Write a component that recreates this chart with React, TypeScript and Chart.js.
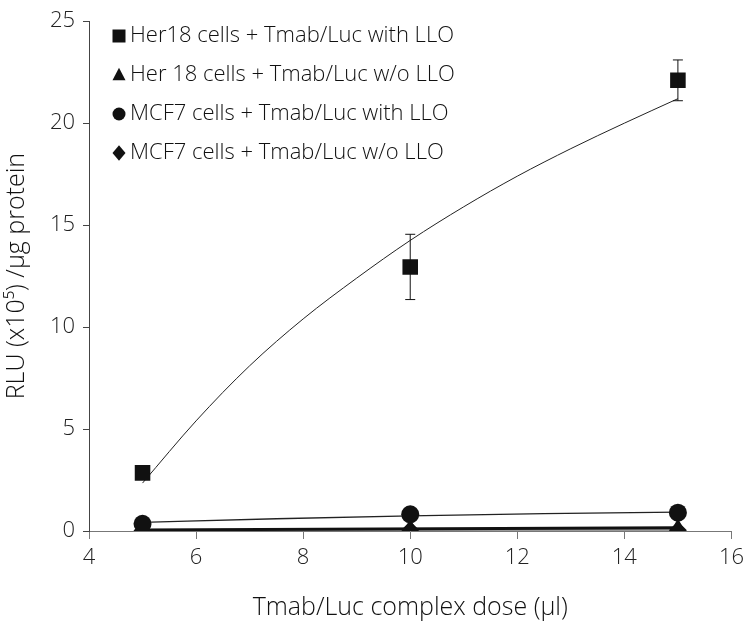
import React, { useEffect, useRef } from 'react';
import { Chart, registerables } from 'chart.js';

Chart.register(...registerables);

const doses = [5, 10, 15];
const her18WithLLO = [2.85, 12.95, 22.1];
const her18WithLLOErr = [0, 1.6, 1.0];
const her18WithoutLLO = [0.04, 0.1, 0.12];
const mcf7WithLLO = [0.35, 0.82, 0.9];
const mcf7WithoutLLO = [0.02, 0.05, 0.04];

const her18TrendX = [5, 6, 7, 8, 9, 10, 11, 12, 13, 14, 15];
const her18TrendY = [2.35, 5.4, 8.1, 10.4, 12.4, 14.25, 15.9, 17.4, 18.75, 20.0, 21.2];
const mcf7TrendX = [5, 7.5, 10, 12.5, 15];
const mcf7TrendY = [0.42, 0.6, 0.74, 0.85, 0.93];
const her18NoTrendX = [5, 15];
const her18NoTrendY = [0.05, 0.16];
const mcf7NoTrendX = [5, 15];
const mcf7NoTrendY = [0.02, 0.05];

const legendLabels = [
  'Her18 cells + Tmab/Luc with LLO',
  'Her 18 cells + Tmab/Luc w/o LLO',
  'MCF7 cells + Tmab/Luc with LLO',
  'MCF7 cells + Tmab/Luc w/o LLO',
];
const legendShapes = ['rect', 'triangle', 'circle', 'rectRot'];

const xTitle = 'Tmab/Luc complex dose (µl)';
const yTitle = 'RLU (x10⁵) /µg protein';

const FONT = "'Open Sans', sans-serif";

const pts = (xs: number[], ys: number[]) => xs.map((x, i) => ({ x, y: ys[i] }));

function drawShape(ctx: CanvasRenderingContext2D, shape: string, x: number, y: number, r: number) {
  ctx.beginPath();
  if (shape === 'rect') {
    ctx.rect(x - r, y - r, 2 * r, 2 * r);
  } else if (shape === 'triangle') {
    ctx.moveTo(x, y - r * 1.1);
    ctx.lineTo(x + r, y + r * 0.8);
    ctx.lineTo(x - r, y + r * 0.8);
    ctx.closePath();
  } else if (shape === 'circle') {
    ctx.arc(x, y, r, 0, Math.PI * 2);
  } else {
    ctx.moveTo(x, y - r * 1.2);
    ctx.lineTo(x + r, y);
    ctx.lineTo(x, y + r * 1.2);
    ctx.lineTo(x - r, y);
    ctx.closePath();
  }
  ctx.fill();
}

const legendPlugin = {
  id: 'insideLegend',
  afterDraw(chart: any) {
    const ctx = chart.ctx as CanvasRenderingContext2D;
    ctx.save();
    ctx.fillStyle = '#111';
    ctx.font = `300 22px ${FONT}`;
    ctx.textBaseline = 'middle';
    legendLabels.forEach((label, i) => {
      const y = 36 + i * 39;
      drawShape(ctx, legendShapes[i], 119, y, 6.5);
      ctx.fillText(label, 130, y);
    });
    ctx.restore();
  },
};

const errorBarPlugin = {
  id: 'errorBars',
  afterDatasetsDraw(chart: any) {
    const ctx = chart.ctx as CanvasRenderingContext2D;
    const xs = chart.scales.x;
    const ys = chart.scales.y;
    ctx.save();
    ctx.strokeStyle = '#111';
    ctx.lineWidth = 1;
    doses.forEach((d, i) => {
      const e = her18WithLLOErr[i];
      if (!e) return;
      const px = xs.getPixelForValue(d);
      const top = ys.getPixelForValue(her18WithLLO[i] + e);
      const bot = ys.getPixelForValue(her18WithLLO[i] - e);
      ctx.beginPath();
      ctx.moveTo(px, top);
      ctx.lineTo(px, bot);
      ctx.moveTo(px - 5, top);
      ctx.lineTo(px + 5, top);
      ctx.moveTo(px - 5, bot);
      ctx.lineTo(px + 5, bot);
      ctx.stroke();
    });
    ctx.restore();
  },
};

export default function App() {
  const ref = useRef<HTMLCanvasElement>(null);
  useEffect(() => {
    document.body.style.margin = '0';
    if (!ref.current) return;
    const markerBase = {
      showLine: false,
      backgroundColor: '#111',
      borderColor: '#111',
      borderWidth: 0,
    };
    const chart = new Chart(ref.current, {
      type: 'scatter',
      data: {
        datasets: [
          { ...markerBase, label: legendLabels[0], data: pts(doses, her18WithLLO), pointStyle: 'rect', pointRadius: 11 },
          { ...markerBase, label: legendLabels[2], data: pts(doses, mcf7WithLLO), pointStyle: 'circle', pointRadius: 9 },
          { ...markerBase, label: legendLabels[1], data: pts(doses, her18WithoutLLO), pointStyle: 'triangle', pointRadius: 10 },
          { ...markerBase, label: legendLabels[3], data: pts(doses, mcf7WithoutLLO), pointStyle: 'rectRot', pointRadius: 9 },
          { label: 't1', data: pts(her18TrendX, her18TrendY), showLine: true, pointRadius: 0, borderColor: '#222', borderWidth: 1, cubicInterpolationMode: 'monotone' },
          { label: 't3', data: pts(mcf7TrendX, mcf7TrendY), showLine: true, pointRadius: 0, borderColor: '#222', borderWidth: 1.3, cubicInterpolationMode: 'monotone' },
          { label: 't2', data: pts(her18NoTrendX, her18NoTrendY), showLine: true, pointRadius: 0, borderColor: '#111', borderWidth: 3 },
          { label: 't4', data: pts(mcf7NoTrendX, mcf7NoTrendY), showLine: true, pointRadius: 0, borderColor: '#999', borderWidth: 3 },
        ],
      },
      options: {
        animation: false,
        responsive: false,
        layout: { padding: { top: 14, right: 18, left: 0, bottom: 0 } },
        plugins: { legend: { display: false }, tooltip: { enabled: false } },
        scales: {
          x: {
            type: 'linear',
            min: 4,
            max: 16,
            ticks: { stepSize: 2, color: '#222', font: { family: FONT, size: 22, weight: '300' }, padding: 6 },
            grid: { drawOnChartArea: false, drawTicks: true, tickLength: 8, color: '#777' },
            border: { color: '#777', width: 1 },
            title: { display: true, text: xTitle, color: '#111', font: { family: FONT, size: 25, weight: '300' }, padding: { top: 0, bottom: 2 } },
            afterFit: (s: any) => { s.height = 94; },
          },
          y: {
            type: 'linear',
            min: 0,
            max: 25,
            ticks: { stepSize: 5, color: '#222', font: { family: FONT, size: 22, weight: '300' }, padding: 8 },
            grid: { drawOnChartArea: false, drawTicks: true, tickLength: 6, color: '#444' },
            border: { color: '#444', width: 1 },
            title: { display: true, text: yTitle, color: '#111', font: { family: FONT, size: 25, weight: '300' }, padding: { top: 2, bottom: 0 } },
            afterFit: (s: any) => { s.width = 89; },
          },
        },
      },
      plugins: [errorBarPlugin, legendPlugin],
    } as any);
    return () => chart.destroy();
  }, []);
  return <canvas ref={ref} width={750} height={625} style={{ display: 'block' }} />;
}
